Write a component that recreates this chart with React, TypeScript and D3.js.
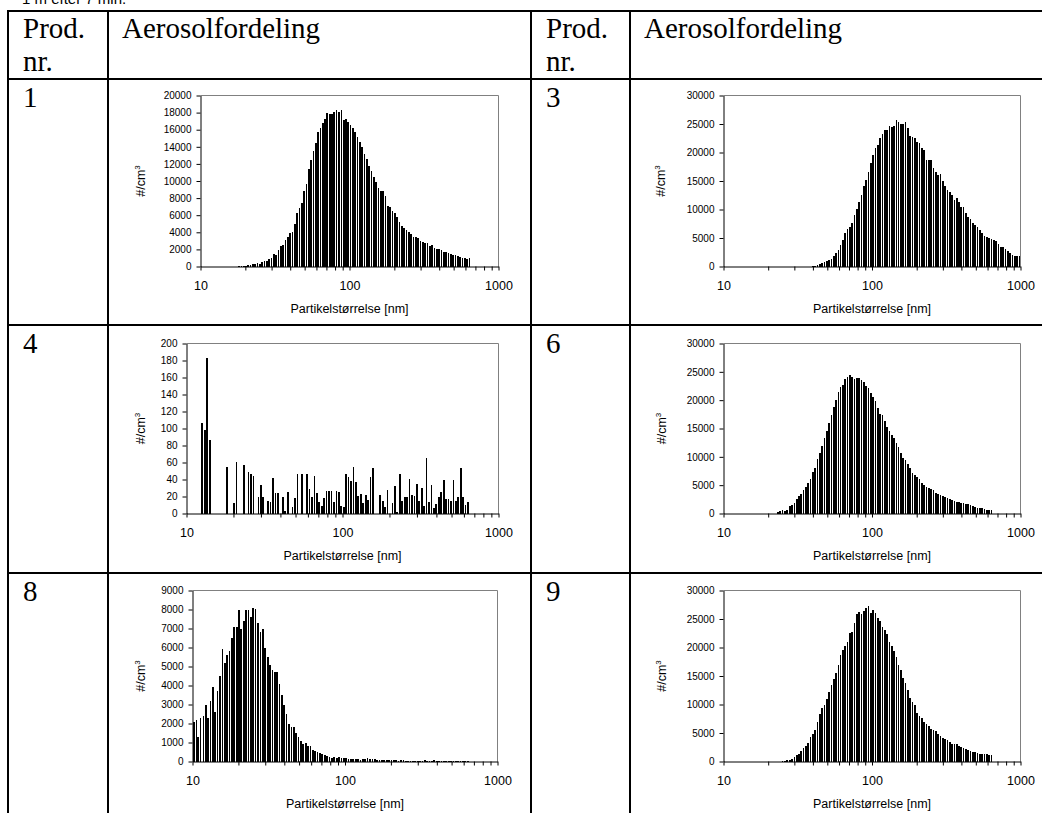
import * as React from "react";
import * as d3 from "d3";

// SMPS channel midpoints [nm], 64 channels per decade
const diameters = [
  10.2, 10.6, 10.9, 11.3, 11.8, 12.2, 12.6, 13.1, 13.6, 14.1,
  14.6, 15.1, 15.7, 16.3, 16.8, 17.5, 18.1, 18.8, 19.5, 20.2,
  20.9, 21.7, 22.5, 23.3, 24.1, 25.0, 25.9, 26.9, 27.9, 28.9,
  30.0, 31.1, 32.2, 33.4, 34.6, 35.9, 37.2, 38.5, 40.0, 41.4,
  42.9, 44.5, 46.1, 47.8, 49.6, 51.4, 53.3, 55.2, 57.3, 59.4,
  61.5, 63.8, 66.1, 68.5, 71.0, 73.7, 76.4, 79.1, 82.0, 85.1,
  88.2, 91.4, 94.7, 98.2, 101.8, 105.5, 109.4, 113.4, 117.6, 121.9,
  126.3, 131.0, 135.8, 140.7, 145.9, 151.2, 156.8, 162.5, 168.5, 174.7,
  181.1, 187.7, 194.6, 201.7, 209.1, 216.7, 224.7, 232.9, 241.4, 250.3,
  259.5, 269.0, 278.8, 289.0, 299.6, 310.6, 322.0, 333.8, 346.0, 358.7,
  371.8, 385.4, 399.5, 414.2, 429.4, 445.1, 461.4, 478.3, 495.8, 514.0,
  532.8, 552.3, 572.5, 593.5, 615.3, 637.8, 661.2, 685.4, 710.5, 736.5,
  763.5, 791.5, 820.5, 850.5, 881.7, 914.0, 947.5, 982.2
];

const prod1 = [
  0, 0, 0, 0, 0, 0, 0, 0, 0, 0,
  0, 0, 0, 0, 0, 0, 20, 30, 50, 80,
  120, 180, 250, 300, 400, 350, 550, 700, 650, 900,
  1000, 1500, 1400, 1900, 2400, 2500, 3100, 3500, 3900, 4000,
  5000, 6300, 6900, 7400, 8800, 9700, 11400, 12500, 13500, 14500,
  15700, 16200, 16800, 17300, 17900, 17800, 17800, 18100, 18300, 18100,
  18300, 17100, 17200, 16900, 16600, 16200, 15700, 15200, 14600, 14000,
  13200, 12600, 11800, 11200, 10500, 9900, 9200, 8800, 8800, 8200,
  7100, 7000, 6500, 6300, 5800, 5200, 4700, 4500, 4300, 4000,
  3800, 3500, 3500, 3300, 3000, 2900, 2800, 2800, 2400, 2500,
  2200, 2000, 2100, 1900, 1700, 1700, 1600, 1500, 1400, 1300,
  1200, 1100, 1050, 950, 900, 950
];

const prod3 = [
  0, 0, 0, 0, 0, 0, 0, 0, 0, 0,
  0, 0, 0, 0, 0, 0, 0, 0, 0, 0,
  0, 0, 0, 0, 0, 0, 0, 0, 0, 0,
  0, 0, 0, 0, 0, 0, 0, 0, 50, 150,
  250, 400, 550, 800, 1000, 1100, 1300, 1800, 2400, 2900,
  3800, 4700, 5800, 6500, 6900, 7600, 9000, 10100, 11400, 12600,
  14200, 15200, 16600, 18100, 19600, 20800, 21400, 22500, 23200, 24000,
  24000, 24600, 24400, 24600, 25700, 25300, 25000, 25000, 25300, 24300,
  22900, 22800, 22500, 21800, 21700, 20800, 20500, 18600, 18700, 18600,
  17300, 16500, 16000, 16300, 15000, 14200, 13400, 13000, 12600, 11600,
  12000, 11300, 10400, 10500, 9400, 8700, 8400, 7600, 7200, 6900,
  6400, 5800, 5400, 5200, 5000, 4900, 4700, 4400, 3900, 3500,
  3400, 3000, 2700, 2300, 2100, 1900, 1800, 1800
];

const prod4 = [
  0, 0, 0, 0, 0, 0, 106, 98, 183, 86,
  0, 0, 0, 0, 0, 0, 55, 0, 0, 12,
  61, 0, 0, 57, 0, 49, 47, 44, 0, 19,
  33, 20, 0, 15, 14, 42, 24, 24, 0, 20,
  3, 25, 0, 8, 18, 46, 0, 47, 0, 47,
  29, 20, 44, 24, 14, 9, 18, 26, 26, 26,
  14, 26, 25, 9, 8, 47, 43, 38, 55, 37,
  21, 23, 12, 22, 16, 43, 53, 0, 0, 22,
  15, 8, 28, 0, 12, 32, 2, 47, 15, 19,
  20, 41, 22, 21, 35, 15, 30, 9, 65, 13,
  34, 7, 11, 20, 25, 40, 17, 17, 15, 39,
  15, 20, 53, 19, 10, 13
];

const prod6 = [
  0, 0, 0, 0, 0, 0, 0, 0, 0, 0,
  0, 0, 0, 0, 0, 0, 0, 0, 0, 0,
  0, 0, 0, 300, 400, 600, 500, 600, 1400, 1500,
  1800, 2500, 3100, 3500, 4200, 4700, 5400, 6100, 7300, 8000,
  9600, 10600, 12000, 13400, 14500, 15900, 17300, 18800, 20000, 21400,
  22400, 22600, 23700, 24100, 24500, 24100, 23800, 23900, 23900, 23500,
  23200, 22500, 22200, 21300, 20600, 19800, 18700, 17600, 17300, 16300,
  15300, 14500, 13800, 13400, 12500, 11800, 10700, 9800, 9400, 8800,
  8000, 7200, 6800, 6500, 6100, 5300, 5000, 4600, 4500, 4300,
  4200, 3700, 3500, 3300, 3100, 3000, 2800, 2600, 2400, 2200,
  2000, 2000, 1900, 1800, 1700, 1600, 1500, 1300, 1200, 1000,
  1000, 900, 800, 700, 600, 700
];

const prod8 = [
  2100, 2200, 1300, 2300, 2400, 2950, 2300, 3200, 3900, 2600,
  3700, 4500, 5900, 5200, 5600, 5800, 6500, 7100, 7100, 8000,
  7000, 7400, 8000, 8000, 7600, 8100, 8050, 7300, 6800, 7000,
  6000, 5500, 5100, 4800, 4700, 4700, 4100, 3500, 3000, 2500,
  2000, 1800, 1800, 1500, 1300, 1100, 900, 1000, 800, 800,
  600, 550, 500, 450, 400, 350, 300, 250, 200, 250,
  200, 220, 180, 200, 180, 150, 140, 120, 130, 110,
  100, 120, 140, 160, 150, 140, 120, 100, 90, 100,
  80, 70, 80, 60, 70, 60, 50, 70, 60, 50,
  40, 50, 40, 50, 40, 50, 40, 60, 40, 50,
  40, 60, 40, 50, 40, 50, 40, 50, 40, 40,
  50, 40, 50, 40, 50, 40
];

const prod9 = [
  0, 0, 0, 0, 0, 0, 0, 0, 0, 0,
  0, 0, 0, 0, 0, 0, 0, 0, 0, 0,
  0, 0, 0, 0, 0, 100, 150, 250, 350, 500,
  800, 1100, 1400, 1800, 2300, 2800, 3200, 4300, 4800, 5600,
  7000, 8300, 9300, 10000, 11000, 12200, 13400, 14500, 15500, 17000,
  18700, 19600, 20300, 21000, 22500, 22800, 24300, 25800, 26200, 25800,
  26400, 26900, 27300, 26000, 26600, 26000, 25200, 24700, 23600, 23000,
  22300, 21000, 20200, 19300, 18400, 17000, 16100, 14600, 13700, 12600,
  11200, 10500, 9900, 8500, 8000, 7600, 7000, 6500, 6200, 5700,
  5600, 5300, 4800, 4500, 4200, 3900, 3700, 3500, 3100, 3000,
  3100, 2800, 2600, 2300, 2200, 2000, 1900, 1700, 1600, 1500,
  1400, 1300, 1300, 1400, 1200, 1100
];

const prodNumbers = ["1", "3", "4", "6", "8", "9"];
const yMaxes = [20000, 30000, 200, 30000, 9000, 30000];
const ySteps = [2000, 5000, 20, 5000, 1000, 5000];
const xTicks = [10, 20, 30, 40, 50, 60, 70, 80, 90, 100, 200, 300, 400, 500, 600, 700, 800, 900, 1000];
const xTickLabels = ["10", "100", "1000"];
const headerProd = ["Prod.", "nr."];
const headerDist = "Aerosolfordeling";
const xTitle = "Partikelstørrelse [nm]";
const caption = "1 m efter 7 min.";

const series = [prod1, prod3, prod4, prod6, prod8, prod9];

// plot boxes, one per chart (same order as series)
const boxes = [
  { left: 200.5, right: 498.5, top: 95.5, bottom: 266.5, yTitleX: 141 },
  { left: 723.5, right: 1020.5, top: 95.5, bottom: 266.5, yTitleX: 661 },
  { left: 186.5, right: 498.5, top: 343.5, bottom: 513.5, yTitleX: 141 },
  { left: 723.5, right: 1020.5, top: 343.5, bottom: 513.5, yTitleX: 662 },
  { left: 192.5, right: 497.5, top: 590.5, bottom: 761.5, yTitleX: 141 },
  { left: 723.5, right: 1020.5, top: 590.5, bottom: 761.5, yTitleX: 662 }
];

const SANS = "'Liberation Sans', Arial, sans-serif";
const SERIF = "'Liberation Serif', 'Times New Roman', serif";

function SizeChart({ values, box, yMax, yStep }) {
  const ref = React.useRef(null);

  React.useEffect(() => {
    const g = d3.select(ref.current);
    g.selectAll("*").remove();

    const x = d3.scaleLog().domain([10, 1000]).range([box.left, box.right]);
    const y = d3.scaleLinear().domain([0, yMax]).range([box.bottom, box.top]);

    const pitch = (box.right - box.left) / 2 / 64;
    const barWidth = pitch * 0.72;

    const bins = values
      .map((v, i) => ({ d: diameters[i], v: v }))
      .filter(b => b.v > 0);

    g.append("g")
      .selectAll("rect")
      .data(bins)
      .enter()
      .append("rect")
      .attr("x", b => x(b.d) - barWidth / 2)
      .attr("width", barWidth)
      .attr("y", b => y(b.v))
      .attr("height", b => y(0) - y(b.v))
      .attr("fill", "#000")
      .attr("shape-rendering", "crispEdges");

    // plot area frame (top and right), gray like excel
    g.append("path")
      .attr("d", `M${box.left},${box.top}H${box.right}V${box.bottom}`)
      .attr("fill", "none")
      .attr("stroke", "#808080")
      .attr("stroke-width", 1);

    const yAxis = d3.axisLeft(y)
      .tickValues(d3.range(0, yMax + 1, yStep))
      .tickSize(4)
      .tickSizeOuter(0)
      .tickPadding(5)
      .tickFormat(d3.format("d"));

    g.append("g")
      .attr("transform", `translate(${box.left},0)`)
      .call(yAxis)
      .attr("font-family", SANS)
      .attr("font-size", 10);

    const xAxis = d3.axisBottom(x)
      .tickValues(xTicks)
      .tickSize(4)
      .tickSizeOuter(0)
      .tickPadding(11)
      .tickFormat(d => (xTickLabels.includes(String(d)) ? String(d) : ""));

    g.append("g")
      .attr("transform", `translate(0,${box.bottom})`)
      .call(xAxis)
      .attr("font-family", SANS)
      .attr("font-size", 12.5);

    g.append("text")
      .attr("x", (box.left + box.right) / 2)
      .attr("y", box.bottom + 46)
      .attr("text-anchor", "middle")
      .attr("font-family", SANS)
      .attr("font-size", 12.5)
      .text(xTitle);

    const yt = g.append("text")
      .attr("transform", `translate(${box.yTitleX + 4},${(box.top + box.bottom) / 2}) rotate(-90)`)
      .attr("text-anchor", "middle")
      .attr("font-family", SANS)
      .attr("font-size", 12.5);
    yt.append("tspan").text("#/cm");
    yt.append("tspan").attr("dy", -5).attr("font-size", 8).text("3");
  }, [values, box, yMax, yStep]);

  return <g ref={ref} />;
}

export default function App() {
  // table grid
  const vLines = [7, 107, 530, 629];
  const hLines = [10, 78, 324, 572];
  const rowTops = [80, 326, 574];

  return (
    <svg
      width={1042}
      height={813}
      style={{ position: "absolute", left: 0, top: 0, background: "#fff" }}
    >
      <rect x={0} y={0} width={1042} height={813} fill="#fff" />
      <text x={22} y={4} fontFamily={SANS} fontSize={15} fill="#000">{caption}</text>

      {vLines.map(v => (
        <rect key={"v" + v} x={v} y={10} width={2} height={803} fill="#000" />
      ))}
      {hLines.map(h => (
        <rect key={"h" + h} x={7} y={h} width={1035} height={2} fill="#000" />
      ))}

      {[0, 1].map(c => (
        <g key={"hdr" + c} fontFamily={SERIF} fontSize={29} fill="#000">
          <text x={vLines[c * 2] + 16} y={38}>{headerProd[0]}</text>
          <text x={vLines[c * 2] + 16} y={71}>{headerProd[1]}</text>
          <text x={vLines[c * 2 + 1] + 15} y={38}>{headerDist}</text>
        </g>
      ))}

      {prodNumbers.map((p, i) => (
        <text
          key={"n" + p}
          x={vLines[(i % 2) * 2] + 16}
          y={rowTops[Math.floor(i / 2)] + 27}
          fontFamily={SERIF}
          fontSize={29}
          fill="#000"
        >
          {p}
        </text>
      ))}

      {series.map((s, i) => (
        <SizeChart key={"c" + i} values={s} box={boxes[i]} yMax={yMaxes[i]} yStep={ySteps[i]} />
      ))}
    </svg>
  );
}
